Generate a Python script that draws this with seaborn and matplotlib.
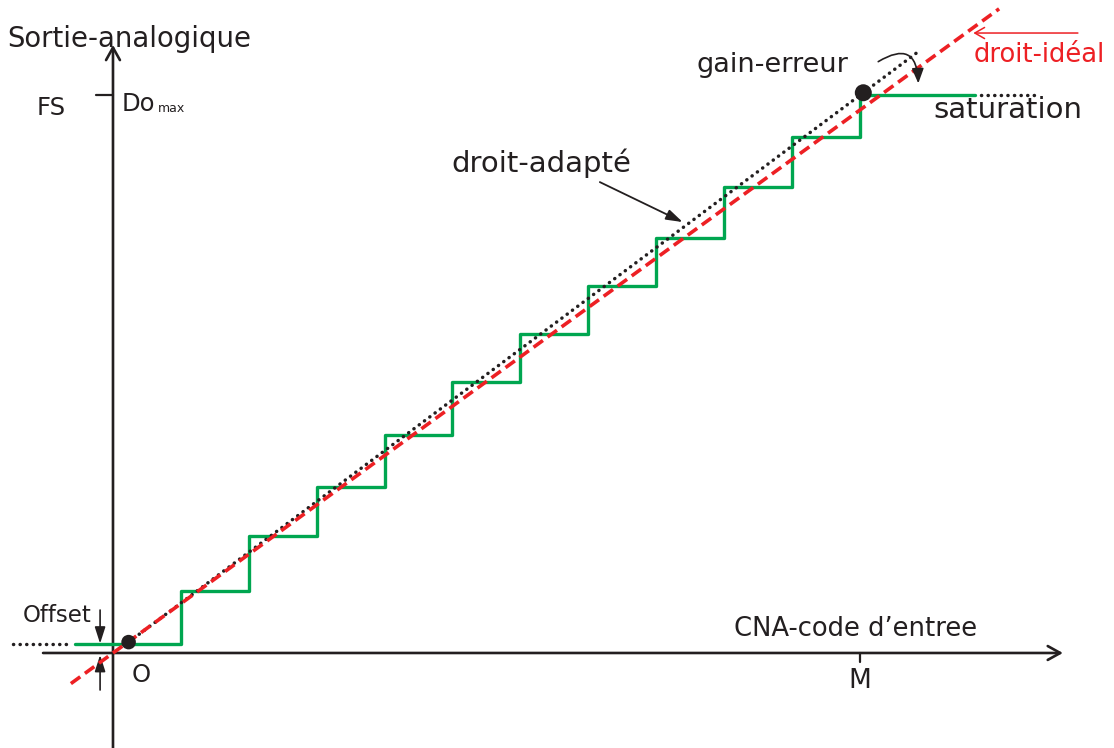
import numpy as np
import pandas as pd
import matplotlib
matplotlib.use("Agg")
import matplotlib.pyplot as plt
from matplotlib.patches import FancyArrowPatch
import seaborn as sns

# DAC transfer characteristic, output expressed in LSB units
codes = [0, 1, 2, 3, 4, 5, 6, 7, 8, 9, 10, 11]
levels = [0.19, 1.26, 2.37, 3.37, 4.42, 5.48, 6.46, 7.44, 8.40, 9.45, 10.46, 11.30]
code_max = 11            # M
full_scale = 11.30       # FS = Do_max
stair_start = -0.56      # staircase drawn from here ...
stair_end = 12.70        # ... to here (saturation plateau)
offset_ext = [-1.47, -0.68]
saturation_ext = [12.79, 13.62]

# ideal straight line (slope 1 through the origin)
ideal_x = [-0.62, 13.05]

# adapted straight line through the offset point and the full-scale point
offset_point = [0.23, 0.22]
gain_point = [11.05, 11.35]
fit_end_x = 11.89

RED = "#ED2024"
GREEN = "#00A650"
INK = "#231F20"

sns.set_theme(style="white")
plt.rcParams["font.family"] = ["DejaVu Sans"]

fig = plt.figure(figsize=(11.14, 7.48), dpi=100)
ax = fig.add_axes([0, 0, 1, 1])

dotted = dict(color=INK, linewidth=2.5, linestyle=(0, (0.05, 1.85)),
              dash_capstyle="round", estimator=None, ax=ax)

# staircase
stair_x = [stair_start] + codes[1:] + [stair_end]
stair_y = levels + [levels[-1]]
sns.lineplot(x=stair_x, y=stair_y, drawstyle="steps-post", estimator=None,
             sort=False, color=GREEN, linewidth=2.4, ax=ax, zorder=3)

# dotted continuations of offset and saturation levels
sns.lineplot(x=offset_ext, y=[levels[0]] * 2, zorder=3, **dotted)
sns.lineplot(x=saturation_ext, y=[levels[-1]] * 2, zorder=3, **dotted)

# adapted line (dotted)
slope = (gain_point[1] - offset_point[1]) / (gain_point[0] - offset_point[0])
fit_x = [offset_point[0], fit_end_x]
fit_y = [offset_point[1], offset_point[1] + slope * (fit_end_x - offset_point[0])]
sns.lineplot(x=fit_x, y=fit_y, zorder=4, **dotted)

# ideal line (dashed red)
sns.lineplot(x=ideal_x, y=ideal_x, color=RED, linewidth=2.6,
             linestyle=(0, (3.2, 1.6)), estimator=None, ax=ax, zorder=5)

# offset and full-scale points
pts = pd.DataFrame({"x": [offset_point[0], gain_point[0]],
                    "y": [offset_point[1], gain_point[1]],
                    "s": [110, 150]})
sns.scatterplot(data=pts, x="x", y="y", size="s", sizes=(110, 150),
                color=INK, edgecolor="none", legend=False, ax=ax, zorder=6)

# coordinate axes with open arrow heads
axis_kw = dict(arrowstyle="->,head_length=0.45,head_width=0.25",
               lw=1.9, color=INK, shrinkA=0, shrinkB=0, mutation_scale=20)
ax.annotate("", xy=(0, 12.32), xytext=(0, -1.93), arrowprops=axis_kw, zorder=2)
ax.annotate("", xy=(13.99, 0), xytext=(-1.03, 0), arrowprops=axis_kw, zorder=2)

# ticks for FS and M
ax.plot([-0.25, 0], [full_scale, full_scale], color=INK, lw=1.6, zorder=2)
ax.plot([code_max, code_max], [0, -0.18], color=INK, lw=1.6, zorder=2)

# labels
ax.text(-1.55, 12.28, "Sortie-analogique", fontsize=19.8, color=INK, va="baseline")
ax.text(-1.12, 10.90, "FS", fontsize=17.5, color=INK, va="baseline")
ax.text(0.13, 10.98, "Do", fontsize=17.5, color=INK, va="baseline")
ax.text(0.66, 10.96, "max", fontsize=9, color=INK, va="baseline")
ax.text(8.60, 11.77, "gain-erreur", fontsize=19.5, color=INK, va="baseline")
ax.text(12.68, 11.97, "droit-idéal", fontsize=18.6, color=RED, va="baseline")
ax.text(12.08, 10.84, "saturation", fontsize=21, color=INK, va="baseline")
ax.text(4.99, 9.74, "droit-adapté", fontsize=21, color=INK, va="baseline")
ax.text(9.15, 0.34, "CNA-code d\u2019entree", fontsize=18.6, color=INK, va="baseline")
ax.text(-1.33, 0.635, "Offset", fontsize=16.5, color=INK, va="baseline")
ax.text(0.41, -0.59, "O", fontsize=17.5, color=INK, ha="center", va="baseline")
ax.text(11.0, -0.71, "M", fontsize=19, color=INK, ha="center", va="baseline")

# annotation arrows
head_kw = "-|>,head_length=0.5,head_width=0.16"
ax.annotate("", xy=(8.39, 8.73), xytext=(7.17, 9.54),
            arrowprops=dict(arrowstyle=head_kw, lw=1.3, color=INK,
                            shrinkA=0, shrinkB=0, mutation_scale=20))
ax.annotate("", xy=(12.67, 12.56), xytext=(14.21, 12.56),
            arrowprops=dict(arrowstyle="->,head_length=0.35,head_width=0.2",
                            lw=1.1, color=RED, shrinkA=0, shrinkB=0,
                            mutation_scale=20))
ax.annotate("", xy=(-0.19, levels[0]), xytext=(-0.19, 0.87),
            arrowprops=dict(arrowstyle=head_kw, lw=1.2, color=INK,
                            shrinkA=0, shrinkB=0, mutation_scale=20))
ax.annotate("", xy=(-0.19, -0.04), xytext=(-0.19, -0.75),
            arrowprops=dict(arrowstyle=head_kw, lw=1.2, color=INK,
                            shrinkA=0, shrinkB=0, mutation_scale=20))
curl = FancyArrowPatch((11.27, 11.98), (11.86, 11.54),
                       connectionstyle="arc3,rad=-0.85",
                       arrowstyle="-|>,head_length=0.45,head_width=0.18",
                       mutation_scale=20, lw=1.2, color=INK,
                       shrinkA=0, shrinkB=0, zorder=7)
ax.add_patch(curl)

ax.set_xlim(-1.664, 14.742)
ax.set_ylim(-1.925, 13.229)
ax.axis("off")

fig.savefig("out.png", dpi=100)
